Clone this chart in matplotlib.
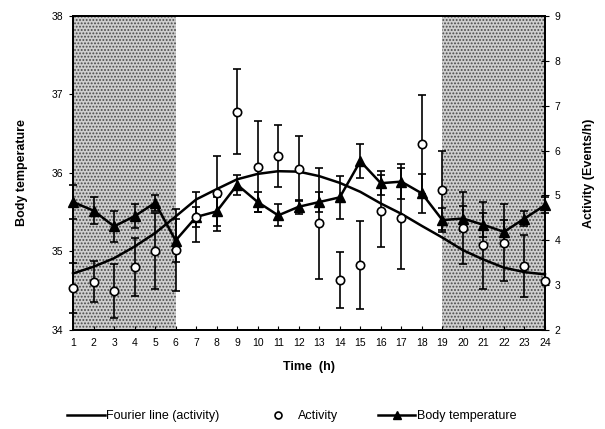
import matplotlib
matplotlib.use("Agg")
import matplotlib.pyplot as plt
from matplotlib.lines import Line2D

plt.rcParams['font.family'] = ['Liberation Sans', 'DejaVu Sans']
plt.rcParams['hatch.linewidth'] = 0.9

hours = list(range(1, 25))
hour_labels = [str(h) for h in hours]

temp = [35.63, 35.52, 35.32, 35.45, 35.62, 35.14, 35.44, 35.51, 35.85, 35.63, 35.46, 35.57,
        35.63, 35.69, 36.15, 35.87, 35.89, 35.74, 35.40, 35.42, 35.34, 35.25, 35.42, 35.59]
temp_err = [0.22, 0.17, 0.20, 0.15, 0.10, 0.28, 0.13, 0.18, 0.13, 0.13, 0.14, 0.09,
            0.13, 0.27, 0.22, 0.15, 0.22, 0.25, 0.15, 0.16, 0.15, 0.15, 0.09, 0.10]

activity = [2.93, 3.08, 2.87, 3.41, 3.76, 3.78, 4.52, 5.05, 6.87, 5.64, 5.88, 5.60,
            4.38, 3.11, 3.45, 4.66, 4.49, 6.14, 5.11, 4.27, 3.89, 3.95, 3.43, 3.09]
activity_err = [0.56, 0.46, 0.61, 0.65, 0.85, 0.92, 0.55, 0.84, 0.95, 1.02, 0.69, 0.73,
                1.24, 0.63, 0.99, 0.80, 1.13, 1.10, 0.89, 0.80, 0.97, 0.85, 0.69, 0.0]

fourier = [3.26, 3.41, 3.60, 3.86, 4.16, 4.53, 4.91, 5.14, 5.36, 5.48, 5.54, 5.53,
           5.43, 5.28, 5.08, 4.82, 4.59, 4.32, 4.06, 3.78, 3.57, 3.39, 3.29, 3.24]

dark_periods = [(1, 6), (19, 24)]

fig = plt.figure(figsize=(6.05, 4.29), dpi=100)
ax = fig.add_axes([0.1207, 0.2308, 0.7801, 0.7319])
ax2 = ax.twinx()

for a, b in dark_periods:
    ax.axvspan(a, b, facecolor='#cfcfcf', edgecolor='#4a4a4a', hatch='.....', linewidth=0, zorder=0)

# Body temperature (left axis)
ax.errorbar(hours, temp, yerr=temp_err, color='black', lw=1.8, marker='^', ms=6.5,
            mfc='black', mec='black', ecolor='black', elinewidth=1.2, capsize=3, capthick=1.2,
            zorder=3, clip_on=False)

# Activity (right axis)
ax2.plot(hours, fourier, color='black', lw=1.8, zorder=2, clip_on=False)
ax2.errorbar(hours, activity, yerr=activity_err, fmt='o', ms=6, mfc='white', mec='black',
             mew=1.2, ecolor='black', elinewidth=1.2, capsize=3, capthick=1.2, zorder=4,
             clip_on=False)

ax.set_xlim(1, 24)
ax.set_ylim(34, 38)
ax2.set_ylim(2, 9)
ax.set_xticks(hours)
ax.set_xticklabels(hour_labels)
ax.set_yticks([34, 35, 36, 37, 38])
ax2.set_yticks([2, 3, 4, 5, 6, 7, 8, 9])

for a in (ax, ax2):
    for s in a.spines.values():
        s.set_linewidth(1.3)
ax.tick_params(axis='x', direction='in', length=3, width=0.8, labelsize=7.5, pad=6)
ax.tick_params(axis='y', direction='out', length=3, width=0.8, labelsize=7.5, pad=4)
ax2.tick_params(axis='y', direction='inout', length=6, width=0.8, labelsize=7.5, pad=4)

ax.set_xlabel('Time  (h)', fontsize=9, fontweight='bold', labelpad=9)
ax.set_ylabel('Body temperature', fontsize=9, fontweight='bold', labelpad=17)
ax2.set_ylabel('Activity (Events/h)', fontsize=9, fontweight='bold', labelpad=16)

handles = [
    Line2D([], [], color='black', lw=1.8),
    Line2D([], [], ls='none', marker='o', ms=5, mfc='white', mec='black', mew=1.2),
    Line2D([], [], color='black', lw=1.8, marker='^', ms=6, mfc='black'),
]
labels = ['Fourier line (activity)', 'Activity', 'Body temperature']
fig.legend(handles, labels, loc='center', bbox_to_anchor=(0.482, 0.03), ncol=3,
           frameon=False, fontsize=9, handlelength=3.0, handletextpad=0.1, columnspacing=3.2)

fig.savefig('out.png', dpi=100)
